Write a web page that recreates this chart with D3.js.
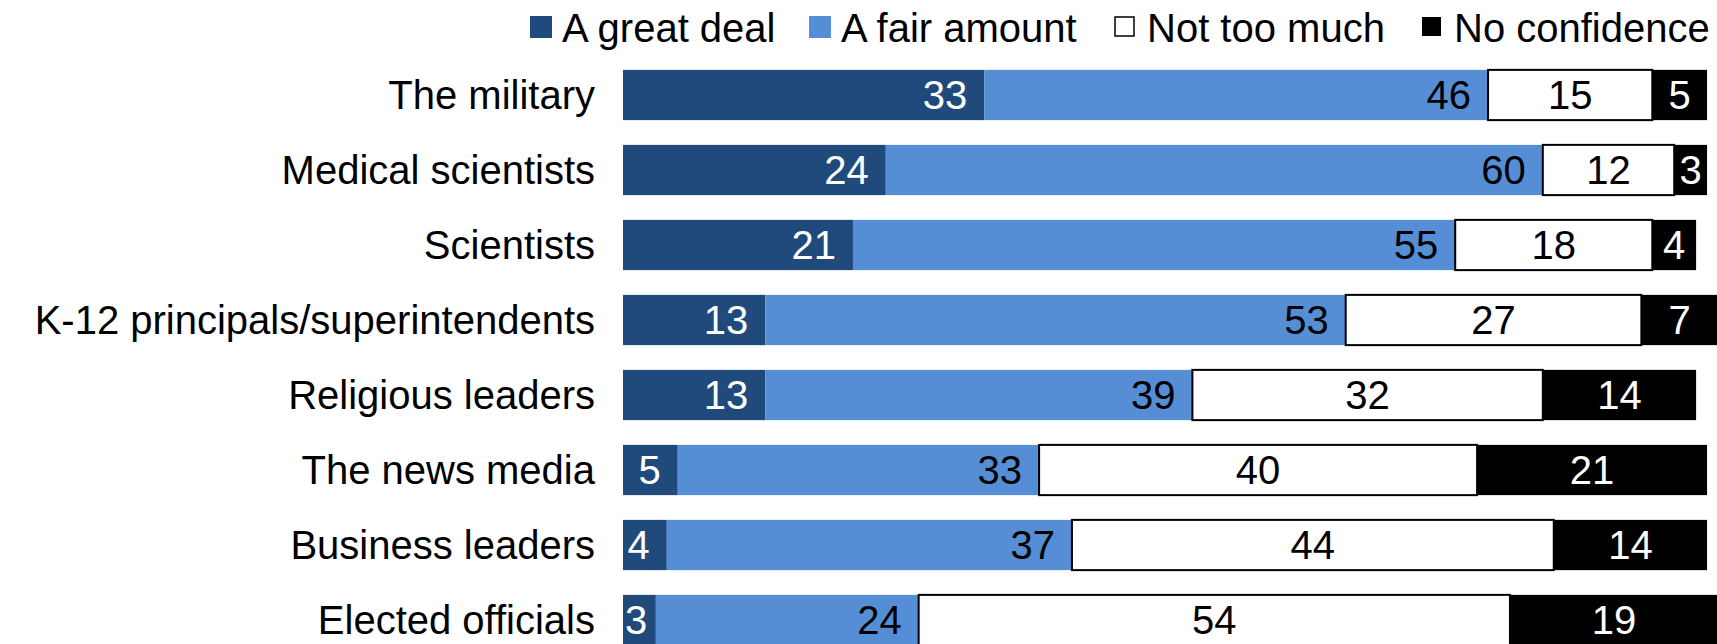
<!DOCTYPE html>
<html>
<head>
<meta charset="utf-8">
<script src="https://cdn.jsdelivr.net/npm/d3@7"></script>
<style>
  body { margin: 0; background: #fff; }
  text { font-family: "Liberation Sans", Arial, sans-serif; }
</style>
</head>
<body>
<div id="chart"></div>
<script>
//Chart data
var categories = ["The military", "Medical scientists", "Scientists", "K-12 principals/superintendents",
    "Religious leaders", "The news media", "Business leaders", "Elected officials"];
var greatDeal = [33, 24, 21, 13, 13, 5, 4, 3];
var fairAmount = [46, 60, 55, 53, 39, 33, 37, 24];
var notTooMuch = [15, 12, 18, 27, 32, 40, 44, 54];
var noConfidence = [5, 3, 4, 7, 14, 21, 14, 19];
var seriesNames = ["A great deal", "A fair amount", "Not too much", "No confidence"];

//Styles for each series
var fills = ["#204a7c", "#558ed5", "#ffffff", "#000000"];
var textColors = ["#ffffff", "#000000", "#000000", "#ffffff"];
var keys = ["great", "fair", "notmuch", "none"];

var width = 1717, height = 644;

//Build rows for d3.stack
var rows = categories.map(function (c, i) {
    return { cat: c, great: greatDeal[i], fair: fairAmount[i], notmuch: notTooMuch[i], none: noConfidence[i] };
});

var stacked = d3.stack().keys(keys)(rows);

var x = d3.scaleLinear().domain([0, 100]).range([623, 1718]);
var y = d3.scaleBand().domain(categories).range([57.5, 657.5]).paddingInner(0.33).paddingOuter(0.165);

var svg = d3.select("#chart")
    .append("svg")
    .attr("width", width)
    .attr("height", height);

//Category labels
svg.selectAll("text.cat")
    .data(categories)
    .enter()
    .append("text")
    .attr("class", "cat")
    .attr("x", x(0) - 28)
    .attr("y", function (d) { return y(d) + y.bandwidth() / 2 + 14; })
    .attr("text-anchor", "end")
    .attr("font-size", "40px")
    .attr("fill", "#000")
    .text(function (d) { return d; });

//Bars, one group per series
var groups = svg.selectAll("g.series")
    .data(stacked)
    .enter()
    .append("g")
    .attr("class", "series");

groups.selectAll("rect")
    .data(function (s) { return s.map(function (d) { return { s: s.index, d: d }; }); })
    .enter()
    .append("rect")
    .attr("x", function (p) { return x(p.d[0]); })
    .attr("y", function (p) { return y(p.d.data.cat); })
    .attr("width", function (p) { return x(p.d[1]) - x(p.d[0]); })
    .attr("height", y.bandwidth())
    .attr("fill", function (p) { return fills[p.s]; })
    .attr("stroke", function (p) { return p.s === 2 ? "#000" : "none"; })
    .attr("stroke-width", 2);

//Value labels
var digitW = 22.2;
groups.selectAll("text")
    .data(function (s) { return s.map(function (d) { return { s: s.index, d: d }; }); })
    .enter()
    .append("text")
    .attr("font-size", "40px")
    .attr("fill", function (p) { return textColors[p.s]; })
    .attr("y", function (p) { return y(p.d.data.cat) + y.bandwidth() / 2 + 14; })
    .each(function (p) {
        var v = p.d[1] - p.d[0];
        var x0 = x(p.d[0]), x1 = x(p.d[1]);
        var t = d3.select(this).text(v);
        if (p.s < 2) {
            var tw = String(v).length * digitW;
            t.attr("text-anchor", "end").attr("x", Math.max(x1 - 17, x0 + tw + 2));
        } else {
            t.attr("text-anchor", "middle").attr("x", (x0 + x1) / 2);
        }
    });

//Legend
var legendX = [530, 809, 1115, 1422];
var legend = svg.selectAll("g.legend")
    .data(seriesNames)
    .enter()
    .append("g")
    .attr("class", "legend");

legend.append("rect")
    .attr("x", function (d, i) { return legendX[i]; })
    .attr("y", function (d, i) { return i < 2 ? 16 : 17; })
    .attr("width", function (d, i) { return i < 2 ? 22 : 19; })
    .attr("height", function (d, i) { return i < 2 ? 22 : 19; })
    .attr("fill", function (d, i) { return fills[i]; })
    .attr("stroke", function (d, i) { return i === 2 ? "#000" : "none"; })
    .attr("stroke-width", 1.5);

legend.append("text")
    .attr("x", function (d, i) { return legendX[i] + (i < 2 ? 32 : 32); })
    .attr("y", 42)
    .attr("font-size", "40px")
    .attr("fill", "#000")
    .text(function (d) { return d; });
</script>
</body>
</html>
